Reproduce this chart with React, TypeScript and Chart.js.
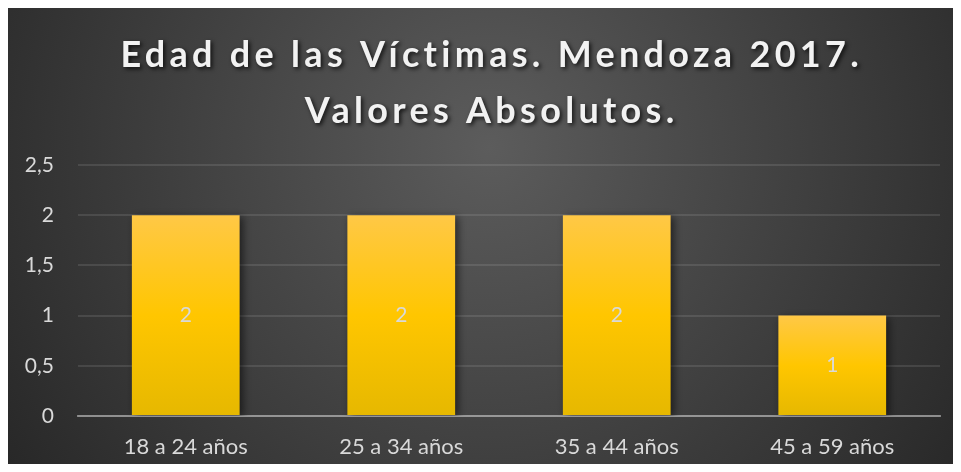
import React, { useEffect, useRef } from "react";
import { Chart, registerables } from "chart.js";

Chart.register(...registerables);

const titleLines = ["Edad de las Víctimas. Mendoza 2017.", "Valores Absolutos."];
const categories = ["18 a 24 años", "25 a 34 años", "35 a 44 años", "45 a 59 años"];
const values = [2, 2, 2, 1];
const yTickValues = [0, 0.5, 1, 1.5, 2, 2.5];
const yTickLabels = ["0", "0,5", "1", "1,5", "2", "2,5"];

const FONT = "Lato, 'Open Sans', sans-serif";

export default function App() {
  const canvasRef = useRef<HTMLCanvasElement | null>(null);

  useEffect(() => {
    const canvas = canvasRef.current;
    if (!canvas) return;

    const bgPlugin = {
      id: "bgPlugin",
      beforeDraw(chart: any) {
        const { ctx, width, height } = chart;
        ctx.save();
        const g = ctx.createRadialGradient(width / 2, height * 0.3, 0, width / 2, height * 0.3, width * 0.62);
        g.addColorStop(0, "#5c5c5c");
        g.addColorStop(1, "#262626");
        ctx.fillStyle = g;
        ctx.fillRect(0, 0, width, height);
        ctx.restore();
      },
    };

    const titlePlugin = {
      id: "titlePlugin",
      afterDraw(chart: any) {
        const { ctx, width } = chart;
        ctx.save();
        ctx.font = `bold 36px ${FONT}`;
        (ctx as any).letterSpacing = "4.3px";
        ctx.textAlign = "center";
        ctx.textBaseline = "alphabetic";
        ctx.fillStyle = "#f2f2f2";
        ctx.shadowColor = "rgba(0,0,0,0.75)";
        ctx.shadowBlur = 4;
        ctx.shadowOffsetX = 2;
        ctx.shadowOffsetY = 2;
        const baselines = [59, 115];
        titleLines.forEach((line, i) => {
          ctx.fillText(line, width / 2 + 2.2, baselines[i]);
        });
        ctx.restore();
      },
    };

    const shadowPlugin = {
      id: "shadowPlugin",
      beforeDatasetDraw(chart: any) {
        const ctx = chart.ctx;
        ctx.save();
        ctx.shadowColor = "rgba(0,0,0,0.55)";
        ctx.shadowBlur = 8;
        ctx.shadowOffsetX = 3;
        ctx.shadowOffsetY = 2;
      },
      afterDatasetDraw(chart: any) {
        chart.ctx.restore();
      },
    };

    const labelPlugin = {
      id: "labelPlugin",
      afterDatasetsDraw(chart: any) {
        const ctx = chart.ctx;
        const meta = chart.getDatasetMeta(0);
        ctx.save();
        ctx.font = `21px ${FONT}`;
        ctx.fillStyle = "#d9d9d9";
        ctx.textAlign = "center";
        ctx.textBaseline = "middle";
        meta.data.forEach((bar: any, i: number) => {
          const v = chart.data.datasets[0].data[i];
          ctx.fillText(String(v), bar.x, (bar.y + bar.base) / 2);
        });
        ctx.restore();
      },
    };

    const chart = new Chart(canvas, {
      type: "bar",
      data: {
        labels: categories,
        datasets: [
          {
            data: values,
            barPercentage: 0.5,
            categoryPercentage: 1,
            backgroundColor: (c: any) => {
              const chartRef = c.chart;
              const y = chartRef.scales?.y;
              if (!y || c.raw === undefined) return "#ffc000";
              const top = y.getPixelForValue(c.raw);
              const bottom = y.getPixelForValue(0);
              if (!isFinite(top) || !isFinite(bottom) || top === bottom) return "#ffc000";
              const g = chartRef.ctx.createLinearGradient(0, top, 0, bottom);
              g.addColorStop(0, "#ffc846");
              g.addColorStop(0.5, "#ffc600");
              g.addColorStop(1, "#e6b800");
              return g;
            },
            borderWidth: 0,
          },
        ],
      },
      options: {
        responsive: true,
        maintainAspectRatio: false,
        animation: false,
        layout: { padding: { top: 157, right: 31, left: 0, bottom: 0 } },
        plugins: {
          legend: { display: false },
          title: { display: false },
          tooltip: { enabled: false },
        },
        scales: {
          x: {
            z: 1,
            grid: { display: false, drawTicks: false },
            border: { display: true, color: "rgba(217,217,217,0.5)", width: 2 },
            ticks: { color: "#d9d9d9", font: { family: FONT, size: 22 }, padding: 18 },
            afterFit(scale: any) {
              scale.height = 56;
            },
          },
          y: {
            min: 0,
            max: 2.5,
            afterBuildTicks(scale: any) {
              scale.ticks = yTickValues.map((v) => ({ value: v }));
            },
            grid: { color: "rgba(217,217,217,0.13)", lineWidth: 2, drawTicks: false },
            border: { display: false },
            ticks: {
              color: "#d9d9d9",
              font: { family: FONT, size: 21 },
              padding: 24,
              callback: (v: any) => {
                const i = yTickValues.indexOf(Number(v));
                return i >= 0 ? yTickLabels[i] : "";
              },
            },
            afterFit(scale: any) {
              scale.width = 70;
            },
          },
        },
      },
      plugins: [bgPlugin, shadowPlugin, labelPlugin, titlePlugin],
    } as any);

    return () => chart.destroy();
  }, []);

  return (
    <div style={{ marginRight: -8, marginBottom: -8, height: 464, overflow: "hidden" }}>
      <div style={{ width: 963, height: 464, position: "relative" }}>
        <canvas ref={canvasRef} />
      </div>
    </div>
  );
}
